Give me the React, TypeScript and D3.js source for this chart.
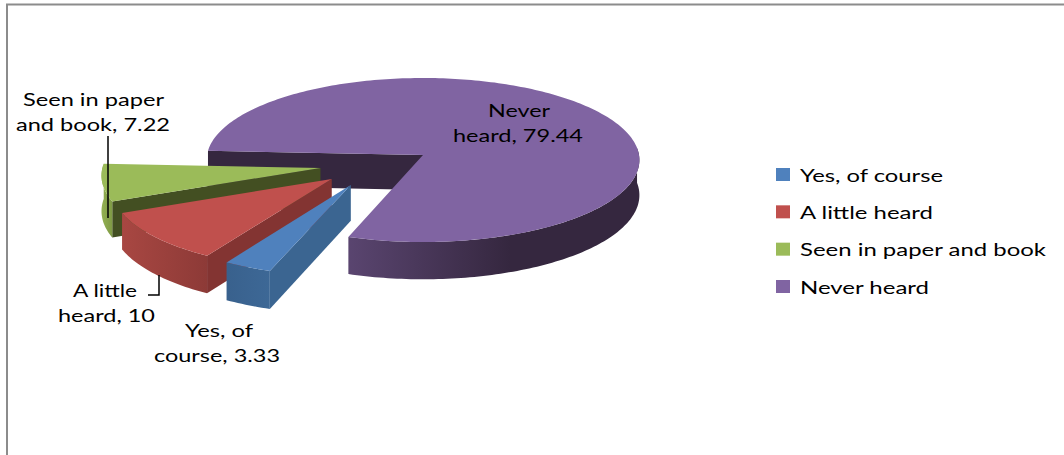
import React from "react";
import * as d3 from "d3";

// Survey answers and their shares, in percent
const categories = ["Yes, of course", "A little heard", "Seen in paper and book", "Never heard"];
const shares = [3.33, 10, 7.22, 79.44];
const topColors = ["#4f81bd", "#c0504d", "#9bbb59", "#8064a2"];
const cutColors = ["#3b6591", "#833432", "#434f22", "#35273f"];
const wallStops = [
  ["#39618d", "#3d6896"],
  ["#a84742", "#8d3a37"],
  ["#93b052", "#7f9a45"],
  ["#5a4570", "#35273f"],
];

// Wrapped data labels: the last line carries the value
const labelHeads = ["Yes, of", "A little", "Seen in paper", "Never"];
const labelTails = ["course", "heard", "and book", "heard"];

// 3D pie camera
const W = 1064;
const H = 455;
const HUB = { x: 423, y: 155 };
const RX = 216;
const RY = 81.7;
const PERSPECTIVE = 0.061;
const DEPTH = 35;
const FIRST_SLICE_DEG = 199;
// Exploded offsets of each slice, in units of the pie radius
const EXPLODE: [number, number][] = [
  [-0.327, 0.36],
  [-0.415, 0.289],
  [-0.47, 0.158],
  [0, 0],
];

const rad = (deg: number) => (deg * Math.PI) / 180;

function project(u: number, v: number, drop = 0): [number, number] {
  const w = 1 / (1 - PERSPECTIVE * v);
  return [HUB.x + RX * u * w, HUB.y + RY * v * w + drop * w];
}

const line = d3.line<[number, number]>();

function rimPoints(off: [number, number], a0: number, a1: number, drop = 0): [number, number][] {
  const steps = Math.max(2, Math.ceil(Math.abs(a1 - a0) / 0.02));
  const angle = d3.scaleLinear().domain([0, steps]).range([a0, a1]);
  return d3.range(steps + 1).map((i) => {
    const a = angle(i);
    return project(off[0] + Math.sin(a), off[1] - Math.cos(a), drop);
  });
}

const pieLayout = d3
  .pie<number>()
  .sort(null)
  .startAngle(rad(FIRST_SLICE_DEG))
  .endAngle(rad(FIRST_SLICE_DEG + 360));

const slices = pieLayout(shares);

function Slice({ index }: { index: number }) {
  const { startAngle: a0, endAngle: a1 } = slices[index];
  const off = EXPLODE[index];
  const tip = project(off[0], off[1]);
  const tipLow = project(off[0], off[1], DEPTH);
  const isBody = index === 3;

  // The main body shows its rear cut face and only the front part of its rim
  const wallFrom = isBody ? rad(445) : a0;
  const top = rimPoints(off, wallFrom, a1);
  const bottom = rimPoints(off, wallFrom, a1, DEPTH).reverse();

  const cornerTop = project(off[0] + Math.sin(a0), off[1] - Math.cos(a0));
  const cornerLow = project(off[0] + Math.sin(a0), off[1] - Math.cos(a0), DEPTH);
  const cutFace: [number, number][] = [tip, cornerTop, cornerLow, tipLow];

  const xs = top.map((p) => p[0]);
  const gradId = `wall-${index}`;
  const faceLine = line([tip, ...rimPoints(off, a0, a1)]) + "Z";

  return (
    <g>
      <defs>
        <linearGradient
          id={gradId}
          gradientUnits="userSpaceOnUse"
          x1={isBody ? 347 : d3.min(xs)}
          x2={isBody ? 510 : d3.max(xs)}
          y1={0}
          y2={0}
        >
          <stop offset="0" stopColor={wallStops[index][0]} />
          <stop offset="1" stopColor={wallStops[index][1]} />
        </linearGradient>
      </defs>
      <path d={line(cutFace) + "Z"} fill={cutColors[index]} />
      <path d={line([...top, ...bottom]) + "Z"} fill={`url(#${gradId})`} />
      <path d={faceLine} fill={topColors[index]} />
    </g>
  );
}

function Label({ x, y, width, children }: { x: number; y: number; width: number; children: string }) {
  return (
    <text
      x={x}
      y={y}
      fontFamily="Lato, 'Open Sans', sans-serif"
      fontSize={18}
      fill="#000"
      textLength={width}
      lengthAdjust="spacingAndGlyphs"
    >
      {children}
    </text>
  );
}

export default function App() {
  const legendY = d3.scaleLinear().domain([0, 3]).range([174.5, 286.5]);
  return (
    <svg
      width={W}
      height={H}
      viewBox={`0 0 ${W} ${H}`}
      style={{ position: "absolute", left: 0, top: 0, display: "block", background: "#fff" }}
    >
      <path d="M7 455V4.5H1064" fill="none" stroke="#8c8c8c" strokeWidth={2} />

      {/* Painted back to front: body, then the exploded slices */}
      <Slice index={3} />
      <Slice index={2} />
      <Slice index={1} />
      <Slice index={0} />

      {/* Leader lines */}
      <path d="M108 136V218" fill="none" stroke="#000" strokeWidth={1.5} />
      <path d="M159 275V295H148" fill="none" stroke="#000" strokeWidth={1.5} />

      {/* Data labels */}
      <Label x={23} y={106} width={141}>{labelHeads[2]}</Label>
      <Label x={16} y={131} width={154}>{`${labelTails[2]}, ${shares[2]}`}</Label>
      <Label x={73} y={297} width={64}>{labelHeads[1]}</Label>
      <Label x={58} y={322} width={97}>{`${labelTails[1]}, ${shares[1]}`}</Label>
      <Label x={185} y={337} width={68}>{labelHeads[0]}</Label>
      <Label x={154} y={362} width={126}>{`${labelTails[0]}, ${shares[0]}`}</Label>
      <Label x={488} y={117} width={62}>{labelHeads[3]}</Label>
      <Label x={453} y={142} width={130}>{`${labelTails[3]}, ${shares[3]}`}</Label>

      {/* Legend */}
      {categories.map((name, i) => (
        <g key={name}>
          <rect x={776} y={legendY(i) - 6.5} width={14} height={13} fill={topColors[i]} />
          <Label x={800} y={legendY(i) + 7} width={[143, 133, 246, 129][i]}>{name}</Label>
        </g>
      ))}
    </svg>
  );
}
